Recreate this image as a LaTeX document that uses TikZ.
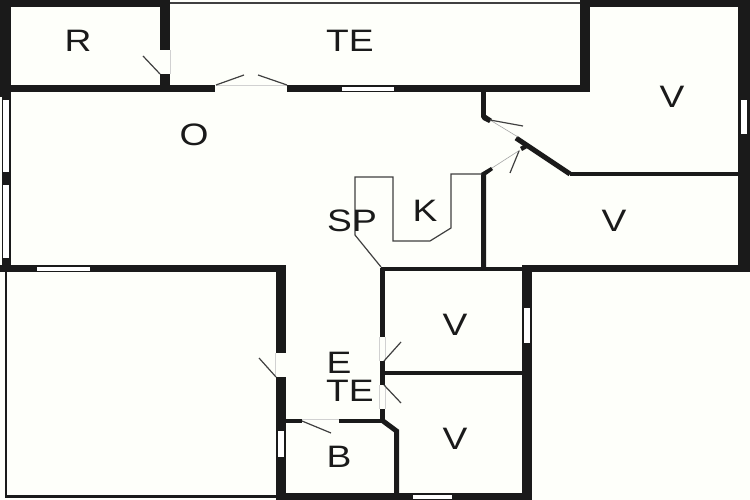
\documentclass[tikz,border=0pt]{standalone}
\usepackage{fontspec}
\setmainfont[FakeStretch=1.2]{Liberation Sans}
\definecolor{wallc}{HTML}{1A1A1A}
\definecolor{paper}{HTML}{FEFFFA}
\definecolor{thinc}{HTML}{404040}
\tikzset{
  wall/.style={fill=wallc,draw=none},
  wline/.style={draw=wallc,line cap=butt,line join=miter},
  win/.style={fill=white,draw=none},
  leaf/.style={draw=thinc,line width=1.2pt},
  gapline/.style={draw=black!18,line width=0.6pt},
  fixture/.style={draw=thinc,line width=1.2pt,line join=miter},
  room/.style={font=\fontsize{31}{33}\selectfont,text=wallc,inner sep=0pt}
}
\begin{document}
\begin{tikzpicture}[x=1pt,y=-1pt]
\useasboundingbox (0,0) rectangle (750,500);
\fill[paper] (0,0) rectangle (750,500);
% thin outer lines
\draw[wline,draw=thinc,line width=1.8pt] (170,3) -- (580,3);
\draw[wline,draw=wallc,line width=2.6pt] (6,272) -- (6,496.5) -- (276,496.5);
% top-left block
\fill[wall] (0,0) rectangle (170,7);
\fill[wall] (0,0) rectangle (11,97);
\fill[wall] (160,0) rectangle (170,50);
\fill[wall] (160,74) rectangle (170,92);
\fill[wall] (11,85) rectangle (215,92);
\fill[wall] (287,85) rectangle (590,92);
\fill[win] (342,87) rectangle (394,91);
% left wall lower
\fill[wall] (1.5,97) rectangle (10.5,272);
\fill[win] (3,100) rectangle (9,172);
\fill[win] (3,185) rectangle (9,258);
% top-right block
\fill[wall] (580,0) rectangle (590,92);
\fill[wall] (580,0) rectangle (750,7);
\fill[wall] (738,0) rectangle (749.5,272);
\fill[win] (741,100) rectangle (747,134);
% middle horizontal
\fill[wall] (0,265) rectangle (286,272);
\fill[win] (37,267) rectangle (90,270.5);
\fill[wall] (276,265) rectangle (286,353);
\fill[wall] (276,377) rectangle (286,500);
\fill[win] (278,431) rectangle (284,457);
\fill[wall] (276,493) rectangle (532,500);
\fill[win] (413,495) rectangle (452,499);
% right rooms
\fill[wall] (481,92) rectangle (486,117);
\fill[wall] (481,117) -- (486,115) -- (492,119) -- (489,123) -- (483,120) -- cycle;
\draw[wline,line width=5pt] (516,138) -- (570,174);
\fill[wall] (520,147) -- (527,143) -- (529,147) -- (522,151) -- cycle;
\fill[wall] (570,172) rectangle (740,176);
\fill[wall] (481,173) -- (491,167) -- (493,170) -- (486,175) -- (486,268) -- (481,268) -- cycle;
\fill[wall] (381,267) rectangle (530,271);
\fill[wall] (522,265) rectangle (750,272);
\fill[wall] (522,265) rectangle (532,500);
\fill[win] (524,308) rectangle (530,343);
% centre partition
\fill[wall] (380,268) rectangle (385,337);
\fill[wall] (380,361) rectangle (385,385);
\fill[wall] (380,409) rectangle (385,421);
\fill[wall] (385,371) rectangle (523,375);
\fill[wall] (286,419) rectangle (302,423);
\fill[wall] (339,419) rectangle (385,423);
\draw[wline,line width=5pt] (383,421) -- (396.5,431) -- (396.5,495);
% gap outlines
\draw[gapline] (216,85.5) -- (287,85.5);
\draw[gapline] (170.5,50) -- (170.5,74);
\draw[gapline] (379.5,337) -- (379.5,361) (385.5,337) -- (385.5,361);
\draw[gapline] (379.5,385) -- (379.5,409) (385.5,385) -- (385.5,409);
\draw[gapline] (275.5,353) -- (275.5,377);
\draw[gapline] (302,419.5) -- (339,419.5);
\draw[gapline,draw=black!35] (490,120) -- (518,137);
\draw[gapline,draw=black!35] (492,168) -- (520,150);
% door leaves
\draw[leaf] (160,74) -- (143,56);
\draw[leaf] (216,85) -- (244,75);
\draw[leaf] (287,85) -- (258,75);
\draw[leaf] (490,120) -- (523,126);
\draw[leaf] (519,151) -- (510,173);
\draw[leaf] (276,377) -- (259,358);
\draw[leaf] (384,361) -- (401,342);
\draw[leaf] (384,385) -- (401,403);
\draw[leaf] (302,421) -- (331,433);
% kitchen fixture
\draw[fixture] (381,267) -- (355,235) -- (355,177) -- (393,177) -- (393,241) -- (430,241) -- (451,228) -- (451,174) -- (482,174);
% labels
\node[room] (r) at (78,41) {R};
\node[room] (te1) at (350,41) {TE};
\node[room] (o) at (194,135) {O};
\node[room] (v1) at (672,97) {V};
\node[room] (v2) at (614,221) {V};
\node[room] (k) at (425,211) {K};
\node[room] (sp) at (352,221) {SP};
\node[room] (v3) at (455,325) {V};
\node[room] (v4) at (455,439) {V};
\node[room] (e) at (339,363) {E};
\node[room] (te2) at (350,391) {TE};
\node[room] (b) at (339,457) {B};
\end{tikzpicture}
\end{document}
